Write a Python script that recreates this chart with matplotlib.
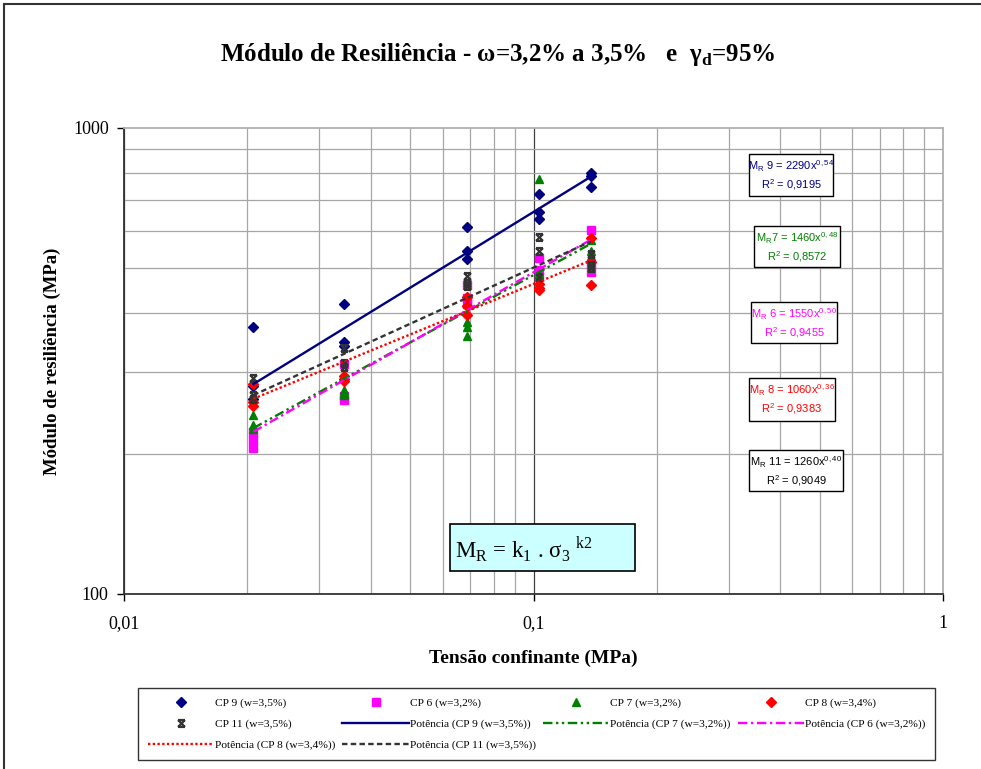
import matplotlib
matplotlib.use("Agg")
import numpy as np
import matplotlib.pyplot as plt
from matplotlib.path import Path
from matplotlib.patches import Rectangle
from matplotlib.ticker import LogLocator, NullFormatter

# ---------------------------------------------------------------------------
# Dados (tensão confinante em MPa, módulo de resiliência em MPa)
# ---------------------------------------------------------------------------
sigma3 = [0.0207, 0.0345, 0.0689, 0.1034, 0.1379]

cp9_mr = [[375, 280, 262], [419, 347, 340], [614, 545, 523], [722, 661, 637], [800, 789, 746]]
cp6_mr = [[223, 214, 206], [312, 266, 261], [460, 432, 420], [525, 495, 480], [604, 510, 492]]
cp7_mr = [[242, 230, 226], [274, 270, 267], [384, 375, 358], [777, 485, 470], [575, 545, 530]]
cp8_mr = [[282, 258, 253], [294, 290, 287], [433, 415, 397], [463, 454, 450], [580, 517, 460]]
cp11_mr = [[291, 267, 262], [337, 313, 307], [482, 464, 458], [584, 545, 480], [537, 508, 500]]

# ajustes do tipo potência  MR = k1 . s3^k2
k1 = {"9": 2290, "7": 1460, "6": 1550, "8": 1060, "11": 1260}
k2 = {"9": 0.54, "7": 0.48, "6": 0.50, "8": 0.36, "11": 0.40}
r2 = {"9": "0,9195", "7": "0,8572", "6": "0,9455", "8": "0,9383", "11": "0,9049"}

NAVY, MAG, GREEN, RED, GRAY = "#000080", "#FF00FF", "#008000", "#FF0000", "#333333"
SERIF = ["Liberation Serif", "DejaVu Serif"]
SANS = ["Liberation Sans", "DejaVu Sans"]

W, H = 981, 769


def fx(x):
    return x / W


def fy(y):
    return 1 - y / H


# marcador "estrela" do Excel (X com barras)
star = Path([(-1, -1), (1, 1), (-1, 1), (1, -1), (-1, 1), (1, 1), (-1, -1), (1, -1)],
            [Path.MOVETO, Path.LINETO] * 4)

fig = plt.figure(figsize=(9.81, 7.69), dpi=100)
ax = fig.add_axes([fx(124), fy(594), fx(943) - fx(124), fy(128) - fy(594)])


def scatter(vals, **kw):
    xs = np.repeat(sigma3, [len(v) for v in vals])
    ys = np.concatenate(vals)
    return ax.plot(xs, ys, ls="none", zorder=3, **kw)[0]


h9 = scatter(cp9_mr, marker="D", ms=4.8, color=NAVY, label="CP 9 (w=3,5%)")
h6 = scatter(cp6_mr, marker="s", ms=5.3, color=MAG, label="CP 6 (w=3,2%)")
h7 = scatter(cp7_mr, marker="^", ms=5.8, color=GREEN, label="CP 7 (w=3,2%)")
h8 = scatter(cp8_mr, marker="D", ms=4.8, color=RED, label="CP 8 (w=3,4%)")
h11 = scatter(cp11_mr, marker=star, ms=5, mew=1.6, color=GRAY, label="CP 11 (w=3,5%)")

xs = np.array(sigma3)


def trend(cp, color, dashes, label):
    ln, = ax.plot(xs, k1[cp] * xs ** k2[cp], color=color, lw=1.7, zorder=4, label=label)
    if dashes:
        ln.set_dashes(dashes)
    return ln


p9 = trend("9", NAVY, None, "Potência (CP 9 (w=3,5%))")
p7 = trend("7", GREEN, (4, 1.5, 1, 1.5, 1, 1.5), "Potência (CP 7 (w=3,2%))")
p6 = trend("6", MAG, (4, 1.5, 1, 1.5), "Potência (CP 6 (w=3,2%))")
p8 = trend("8", RED, (1, 1), "Potência (CP 8 (w=3,4%))")
p11 = trend("11", GRAY, (2.3, 1.4), "Potência (CP 11 (w=3,5%))")

ax.set_xscale("log")
ax.set_yscale("log")
ax.set_xlim(0.01, 1)
ax.set_ylim(100, 1000)
ax.set_xticks([0.01, 0.1, 1], ["0,01", "0,1", "1"])
ax.set_yticks([100, 1000], ["100", "1000"])
ax.xaxis.set_minor_locator(LogLocator(subs=np.arange(2, 10)))
ax.yaxis.set_minor_locator(LogLocator(subs=np.arange(2, 10)))
ax.xaxis.set_minor_formatter(NullFormatter())
ax.yaxis.set_minor_formatter(NullFormatter())
ax.grid(which="minor", color="#a6a6a6", lw=0.9)
ax.grid(which="major", axis="x", color="#404040", lw=0.9)
ax.tick_params(which="minor", length=0)
ax.tick_params(which="major", direction="out", length=5, width=1, labelsize=13)
ax.tick_params(axis="x", pad=10)
ax.tick_params(axis="y", pad=6)
for lab in ax.get_xticklabels() + ax.get_yticklabels():
    lab.set_family(SERIF)
for s in ["left", "bottom"]:
    ax.spines[s].set_color("#333333")
    ax.spines[s].set_linewidth(1.3)
for s in ["top", "right"]:
    ax.spines[s].set_color("#b0b0b0")
    ax.spines[s].set_linewidth(1.3)

ax.set_xlabel("Tensão confinante (MPa)", family=SERIF, fontweight="bold", fontsize=14)
ax.set_ylabel("Módulo de resiliência (MPa)", family=SERIF, fontweight="bold", fontsize=13.5)
ax.xaxis.set_label_coords(0.5, (594 - 650) / 466)
ax.yaxis.set_label_coords((61 - 124) / 819, 0.5)

fig.text(fx(498), fy(55), r"Módulo de Resiliência - ω=3,2% a 3,5%   e  γ$_\mathregular{d}$=95%",
         family=SERIF, fontweight="bold", fontsize=18, ha="center", va="center")

# caixas das equações
boxes = [("9", NAVY, "M$_\\mathregular{R}$ 9", 749, 154, 833, 196),
         ("7", GREEN, "M$_\\mathregular{R}$7", 754, 226, 840, 267),
         ("6", MAG, "M$_\\mathregular{R}$ 6", 751, 302, 837, 343),
         ("8", RED, "M$_\\mathregular{R}$ 8", 749, 378, 835, 421),
         ("11", "black", "M$_\\mathregular{R}$ 11", 749, 450, 843, 491)]
for cp, col, name, x0, y0, x1, y1 in boxes:
    fig.add_artist(Rectangle((fx(x0), fy(y1)), fx(x1) - fx(x0), fy(y0) - fy(y1),
                             transform=fig.transFigure, facecolor="white",
                             edgecolor="black", lw=1, zorder=5))
    xc = (x0 + x1) / 2
    expo = f"{k2[cp]:.2f}".replace(".", ",")
    fig.text(fx(xc), fy(y0 + 12), f"{name} = {k1[cp]}x$^{{\\mathregular{{{expo}}}}}$",
             color=col, family=SANS, fontsize=8, ha="center", va="center", zorder=6)
    fig.text(fx(xc), fy(y0 + 31), f"R$^\\mathregular{{2}}$ = {r2[cp]}",
             color=col, family=SANS, fontsize=8, ha="center", va="center", zorder=6)

# caixa do modelo
fig.add_artist(Rectangle((fx(450), fy(571)), fx(635) - fx(450), fy(524) - fy(571),
                         transform=fig.transFigure, facecolor="#CCFFFF",
                         edgecolor="black", lw=1.2, zorder=5))
fig.text(fx(455), fy(549), r"M$_\mathregular{R}$ = k$_\mathregular{1}$ . σ$_\mathregular{3}$ $^\mathregular{k2}$",
         family=SERIF, fontsize=16.5, ha="left", va="center", zorder=6)

# legenda (ordem por linhas, 4 colunas)
handles = [h9, h11, p8, h6, p9, p11, h7, p7, h8, p6]
leg = fig.legend(handles=handles, labels=[h.get_label() for h in handles],
                 loc="upper left", bbox_to_anchor=(fx(138), fy(757), fx(935) - fx(138), fy(688) - fy(757)),
                 mode="expand", ncol=4, borderaxespad=0,
                 prop={"family": SERIF, "size": 8.2}, frameon=True, fancybox=False,
                 edgecolor="black", handlelength=5.8, handletextpad=0.1,
                 columnspacing=0.8, labelspacing=0.95, borderpad=0.85)
leg.get_frame().set_linewidth(1)

# moldura do gráfico
fig.add_artist(Rectangle((fx(4), fy(800)), fx(1000) - fx(4), fy(4) - fy(800),
                         transform=fig.transFigure, fill=False, edgecolor="#333333", lw=1.5))

plt.savefig("out.png", dpi=100)
